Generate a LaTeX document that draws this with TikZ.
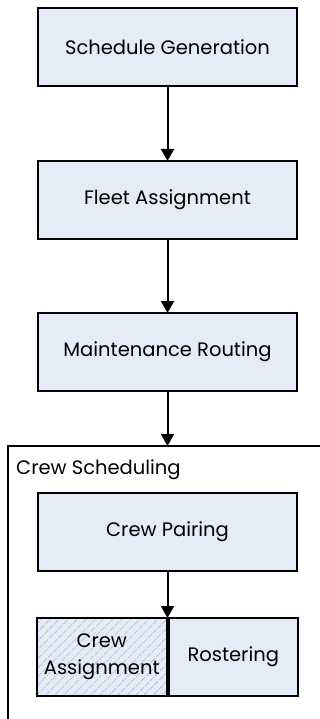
\documentclass[tikz,border=0pt]{standalone}
\usepackage{fontspec}
\setmainfont{Poppins}
\usetikzlibrary{arrows.meta,patterns.meta}
\definecolor{boxfill}{HTML}{E6ECF7}
\definecolor{hatch}{HTML}{A8B6D2}
\tikzset{
  labelfont/.style={font=\fontsize{19.5}{27}\selectfont},
  stage/.style={draw=black, line width=2pt, fill=boxfill, minimum width=259pt,
    minimum height=78pt, inner sep=0pt, labelfont, align=center},
  half/.style={stage, minimum width=129.5pt},
  hatched/.style={fill=none, preaction={fill=boxfill},
    preaction={pattern={Lines[angle=45,distance=6.5pt,line width=0.8pt]}, pattern color=hatch}},
  flow/.style={line width=2pt, -{Triangle[length=12pt,width=13pt]}, shorten >=-1pt},
  frame/.style={draw=black, line width=2pt}
}
\begin{document}
\begin{tikzpicture}[x=1pt,y=-1pt]
\useasboundingbox (0,0) rectangle (320,719);
\clip (0,0) rectangle (320,719);
% outer frame for the crew scheduling stage (runs off the page on two sides)
\node[frame, anchor=north west, minimum width=340pt, minimum height=300pt, inner sep=0pt] (crew) at (7,445) {};
\node[anchor=west, labelfont, inner sep=0pt] (crewlbl) at (16,470) {Crew Scheduling};

\node[stage] (sg) at (167.5,47) {Schedule Generation};
\node[stage] (fa) at (167.5,200) {Fleet Assignment};
\node[stage] (mr) at (167.5,352) {Maintenance Routing};
\node[stage] (cp) at (167.5,532) {Crew Pairing};
\node[half, hatched, anchor=north east] (ca) at (167.5,617) {Crew\\Assignment};
\node[half, anchor=north west] (ro) at (167.5,617) {Rostering};

\draw[flow] (sg) -- (fa);
\draw[flow] (fa) -- (mr);
\draw[flow] (mr.south) -- (mr.south |- crew.north);
\draw[flow] (cp.south) -- (ca.north east);
\end{tikzpicture}
\end{document}
